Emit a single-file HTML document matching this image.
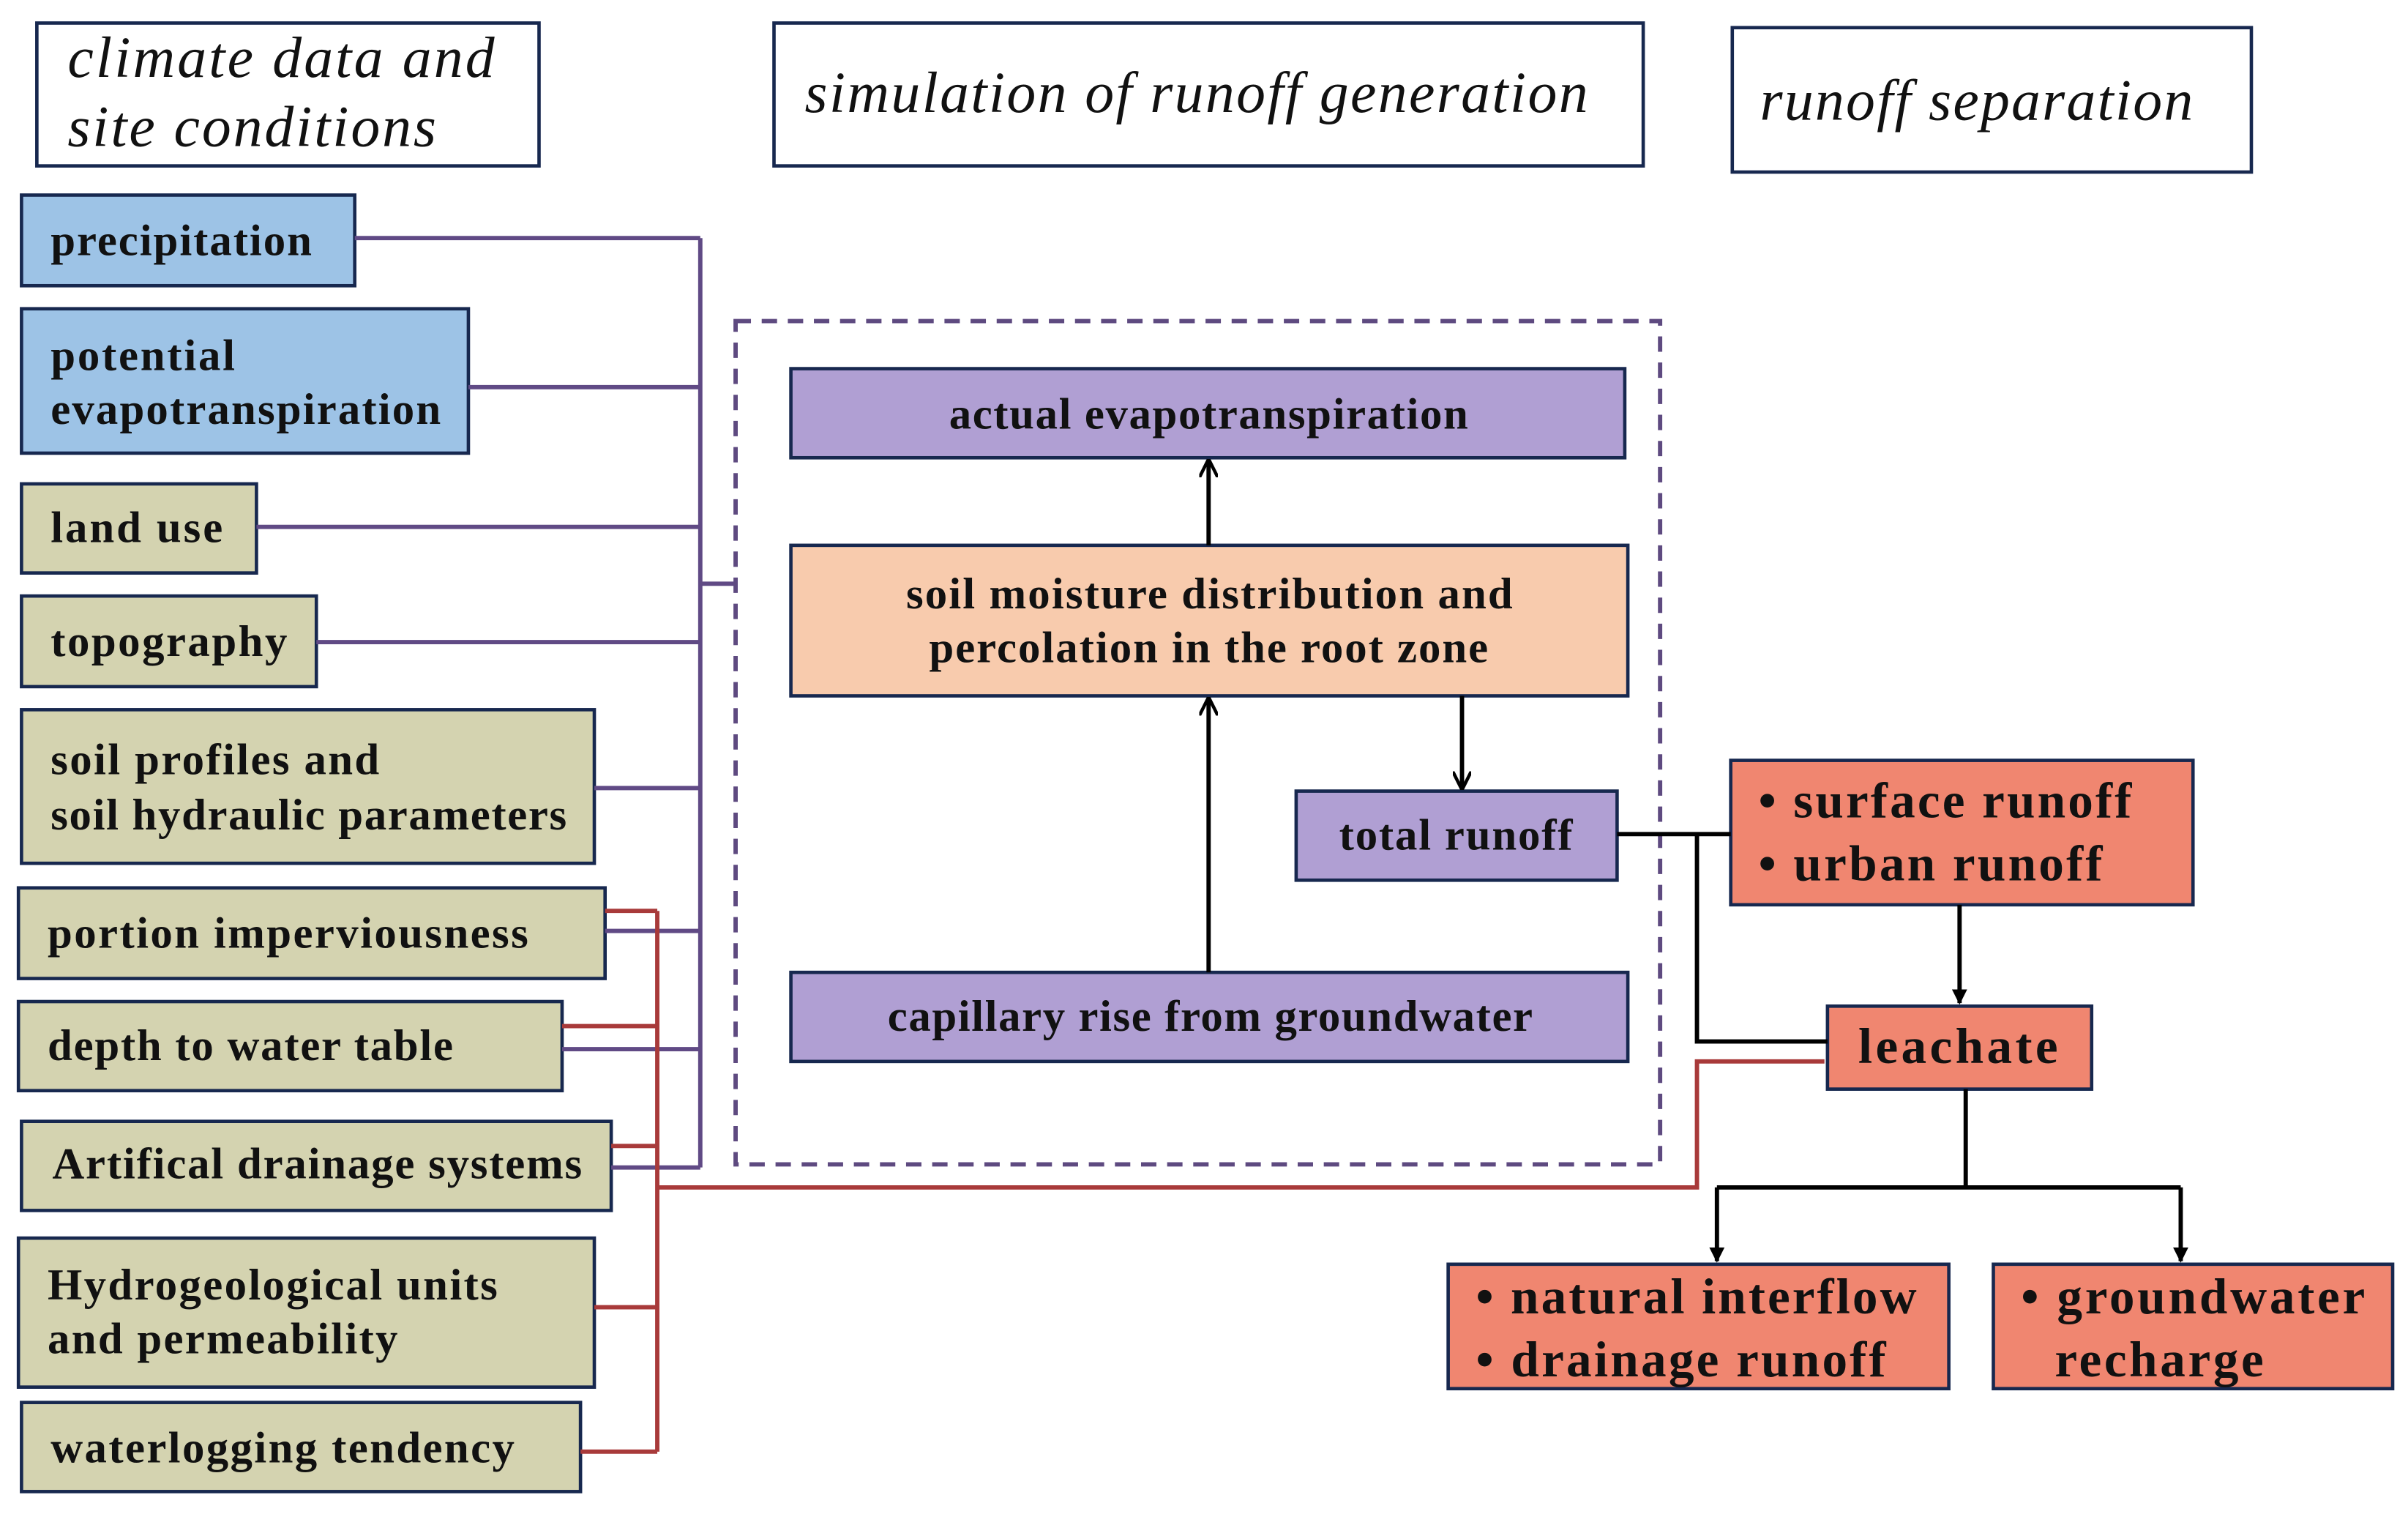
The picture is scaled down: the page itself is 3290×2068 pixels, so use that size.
<!DOCTYPE html>
<html><head><meta charset="utf-8"><style>
html,body{margin:0;padding:0;background:#fff;}
svg{display:block;}
text{font-family:"Liberation Serif",serif;fill:#111;}
.b{font-weight:bold;font-size:29px;}
.t{font-style:italic;font-size:38px;}
</style></head><body>
<svg width="3290" height="2068" viewBox="0 0 1568 985.6" preserveAspectRatio="none" xmlns="http://www.w3.org/2000/svg">
<defs>
<marker id="ah" viewBox="0 0 10 10" refX="9" refY="5" markerWidth="10" markerHeight="10" orient="auto" markerUnits="userSpaceOnUse">
<path d="M0,0 L10,5 L0,10 z" fill="#000"/></marker>
<marker id="oh" viewBox="0 0 10 10" refX="9" refY="5" markerWidth="12" markerHeight="12" orient="auto" markerUnits="userSpaceOnUse">
<path d="M0,0 L10,5 L0,10" fill="none" stroke="#000" stroke-width="1.8"/></marker>
</defs>
<g stroke="#17284f" stroke-width="2.2">
<rect x="24" y="15" width="327" height="93" fill="#fff"/>
<rect x="504" y="15" width="566" height="93" fill="#fff"/>
<rect x="1128" y="18" width="338" height="94" fill="#fff"/>
<rect x="14" y="127" width="217" height="59" fill="#9dc3e6"/>
<rect x="14" y="201" width="291" height="94" fill="#9dc3e6"/>
<rect x="14" y="315" width="153" height="58" fill="#d4d3b0"/>
<rect x="14" y="388" width="192" height="59" fill="#d4d3b0"/>
<rect x="14" y="462" width="373" height="100" fill="#d4d3b0"/>
<rect x="12" y="578" width="382" height="59" fill="#d4d3b0"/>
<rect x="12" y="652" width="354" height="58" fill="#d4d3b0"/>
<rect x="14" y="730" width="384" height="58" fill="#d4d3b0"/>
<rect x="12" y="806" width="375" height="97" fill="#d4d3b0"/>
<rect x="14" y="913" width="364" height="58" fill="#d4d3b0"/>
<rect x="515" y="240" width="543" height="58" fill="#b09fd3"/>
<rect x="515" y="355" width="545" height="98" fill="#f8cbad"/>
<rect x="844" y="515" width="209" height="58" fill="#b09fd3"/>
<rect x="515" y="633" width="545" height="58" fill="#b09fd3"/>
<rect x="1127" y="495" width="301" height="94" fill="#f08670"/>
<rect x="1190" y="655" width="172" height="54" fill="#f08670"/>
<rect x="943" y="823" width="326" height="81" fill="#f08670"/>
<rect x="1298" y="823" width="260" height="81" fill="#f08670"/>
</g>
<rect x="479" y="209" width="602" height="549" fill="none" stroke="#5e4a80" stroke-width="2.8" stroke-dasharray="10,7"/>
<g stroke="#604a85" stroke-width="2.8" fill="none">
<path d="M456,155V760"/>
<path d="M231,155H456M305,252H456M167,343H456M206,418H456M387,513H456M394,606H456M366,683H456M398,760H456M456,380H478"/>
</g>
<g stroke="#a83a3a" stroke-width="2.8" fill="none">
<path d="M428,593V945"/>
<path d="M394,593H428M366,668H428M398,746H428M387,851H428M378,945H428"/>
<path d="M428,773H1105V691H1188"/>
</g>
<g stroke="#000" stroke-width="2.8" fill="none">
<path d="M787,633V455" marker-end="url(#oh)"/>
<path d="M787,355V300" marker-end="url(#oh)"/>
<path d="M952,453V513" marker-end="url(#oh)"/>
<path d="M1053,543H1127M1105,543V678H1190"/>
<path d="M1276,589V653" marker-end="url(#ah)"/>
<path d="M1280,709V773M1118,773H1420"/>
<path d="M1118,773V821" marker-end="url(#ah)"/>
<path d="M1420,773V821" marker-end="url(#ah)"/>
</g>
<text class="t" x="44" y="50" textLength="278">climate data and</text>
<text class="t" x="44" y="95" textLength="240">site conditions</text>
<text class="t" x="524" y="73" textLength="510">simulation of runoff generation</text>
<text class="t" x="1146" y="78" textLength="282">runoff separation</text>
<g class="b">
<text x="33" y="166" textLength="170">precipitation</text>
<text x="33" y="241" textLength="120">potential</text>
<text x="33" y="276" textLength="254">evapotranspiration</text>
<text x="33" y="353" textLength="112">land use</text>
<text x="33" y="427" textLength="154">topography</text>
<text x="33" y="504" textLength="214">soil profiles and</text>
<text x="33" y="540" textLength="336">soil hydraulic parameters</text>
<text x="31" y="617" textLength="313">portion imperviousness</text>
<text x="31" y="690" textLength="264">depth to water table</text>
<text x="34" y="767" textLength="345">Artifical drainage systems</text>
<text x="31" y="846" textLength="293">Hydrogeological units</text>
<text x="31" y="881" textLength="228">and permeability</text>
<text x="33" y="952" textLength="302">waterlogging tendency</text>
<text x="618" y="279" textLength="338">actual evapotranspiration</text>
<text x="590" y="396" textLength="395">soil moisture distribution and</text>
<text x="605" y="431" textLength="364">percolation in the root zone</text>
<text x="872" y="553" textLength="152">total runoff</text>
<text x="578" y="671" textLength="420">capillary rise from groundwater</text>
</g>
<g class="b" style="font-size:33px">
<text x="1145" y="532" textLength="243">• surface runoff</text>
<text x="1145" y="573" textLength="224">• urban runoff</text>
<text x="1210" y="692" textLength="130">leachate</text>
<text x="961" y="855" textLength="287">• natural interflow</text>
<text x="961" y="896" textLength="267">• drainage runoff</text>
<text x="1316" y="855" textLength="224">• groundwater</text>
<text x="1338" y="896" textLength="136">recharge</text>
</g>
</svg>
</body></html>
